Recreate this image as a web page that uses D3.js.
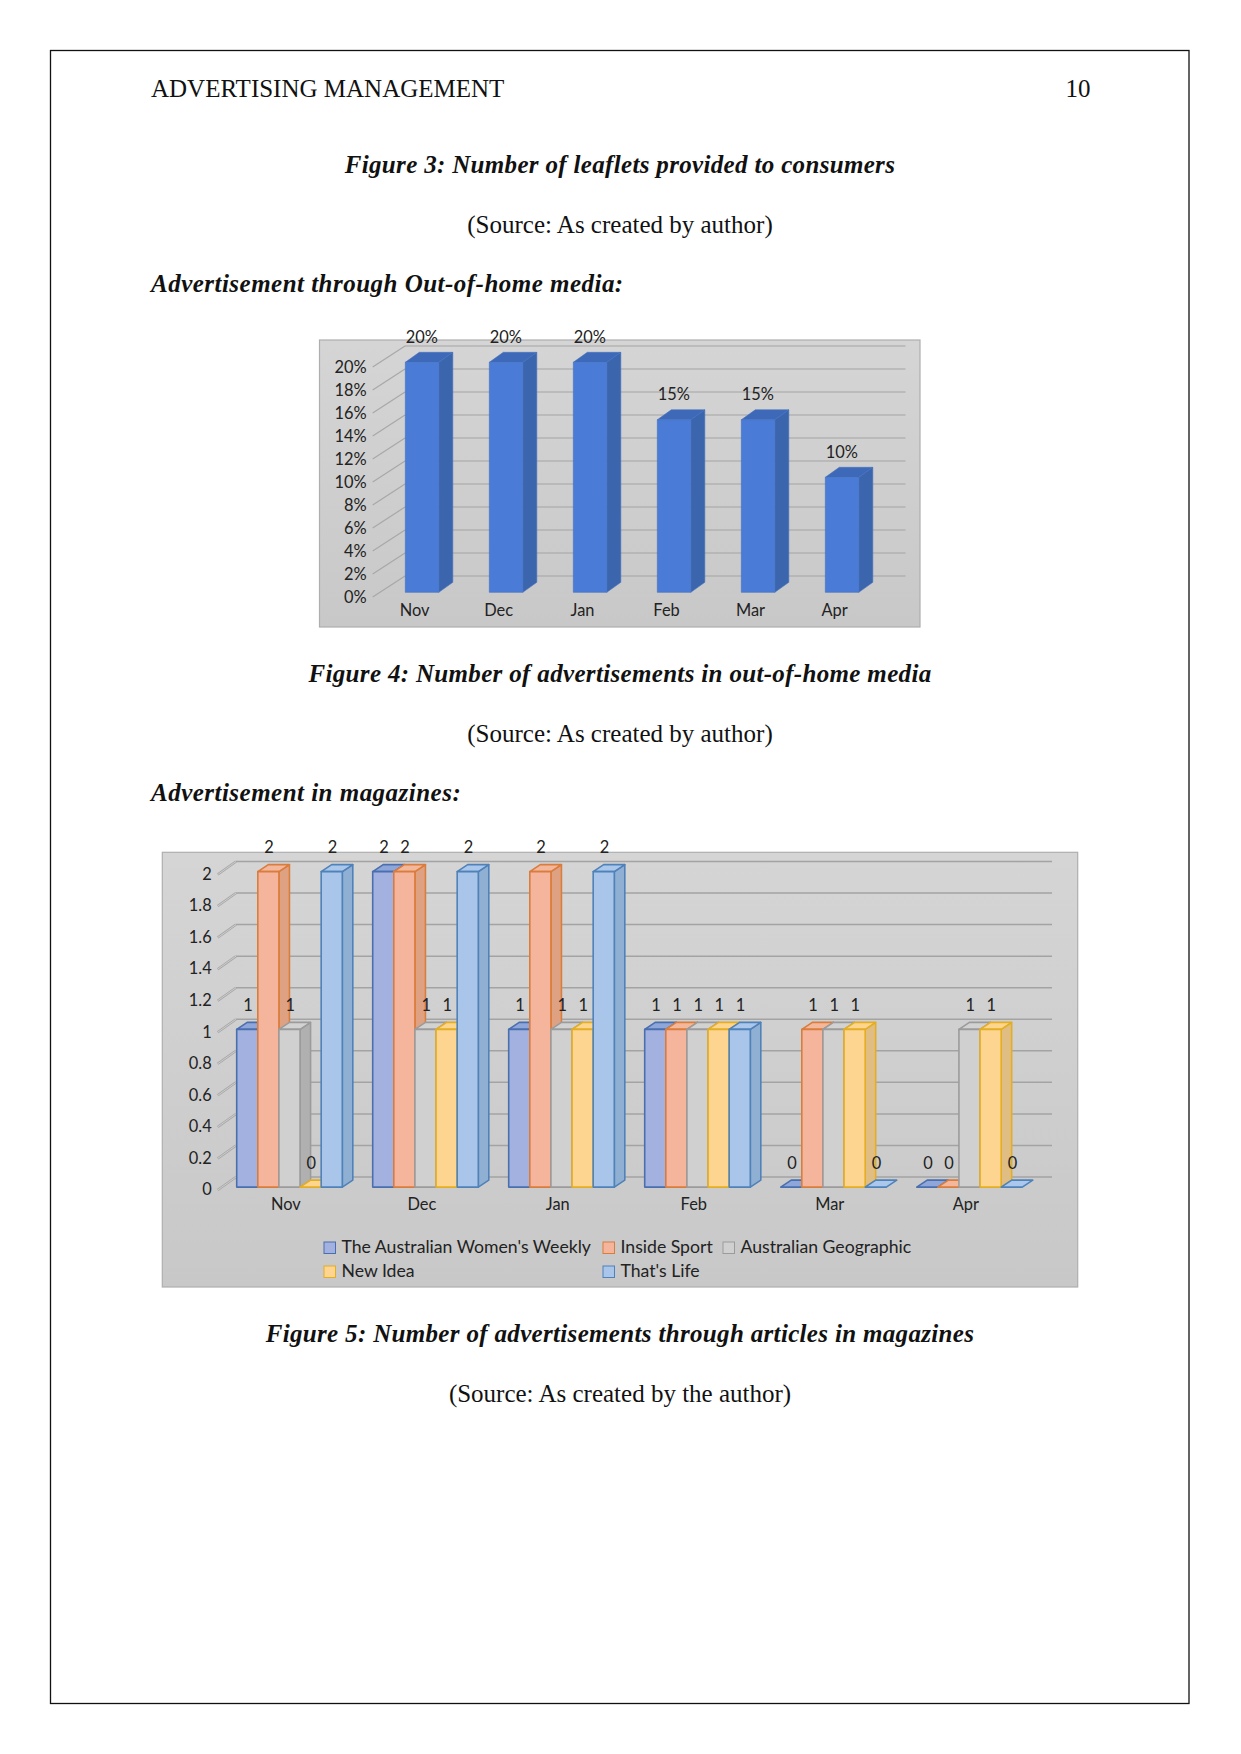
<!DOCTYPE html>
<html><head><meta charset="utf-8">
<script src="https://cdn.jsdelivr.net/npm/d3@7/dist/d3.min.js"></script>
<style>
html,body{margin:0;padding:0;background:#fff}
svg{display:block}
.serif{font-family:"Liberation Serif",serif;font-size:25px;fill:#111}
.bi{font-weight:bold;font-style:italic;letter-spacing:.33px}
.head{letter-spacing:.48px}
.chart text{font-family:Lato,sans-serif;font-size:16.4px;fill:#222}
.chart text.legend{font-size:17.65px}
</style></head><body>
<svg id="page" width="1241" height="1754"></svg>
<script>
// ---- data ----
const months = ["Nov","Dec","Jan","Feb","Mar","Apr"];
const outOfHome = [0.20,0.20,0.20,0.15,0.15,0.10];
const outOfHomeTicks = [0,0.02,0.04,0.06,0.08,0.10,0.12,0.14,0.16,0.18,0.20];
const magazineNames = ["The Australian Women's Weekly","Inside Sport","Australian Geographic","New Idea","That's Life"];
const womensWeekly = [1,2,1,1,0,0];
const insideSport = [2,2,2,1,1,0];
const geographic = [1,1,1,1,1,1];
const newIdea = [0,1,1,1,1,1];
const thatsLife = [2,2,2,1,0,0];
const magazineTicks = [0,0.2,0.4,0.6,0.8,1,1.2,1.4,1.6,1.8,2];
const seriesColors = [
  {front:"#a2b1df",edge:"#4a6fae",side:"#8ca3cf",top:"#8fa6da"},
  {front:"#f4b59c",edge:"#d97c3c",side:"#dea283",top:"#f3b79c"},
  {front:"#d0d0d0",edge:"#9b9b9b",side:"#b0b0b0",top:"#d2d2d2"},
  {front:"#fdd490",edge:"#e4ae24",side:"#e0bd82",top:"#fdd58c"},
  {front:"#a9c5e9",edge:"#4f82b9",side:"#8fafd3",top:"#abc7eb"}
];
const pageTexts = [
  {t:"ADVERTISING MANAGEMENT",x:151,y:97,a:"start",c:""},
  {t:"10",x:1090.5,y:97,a:"end",c:""},
  {t:"Figure 3: Number of leaflets provided to consumers",x:620,y:173,a:"middle",c:"bi"},
  {t:"(Source: As created by author)",x:620,y:233,a:"middle",c:""},
  {t:"Advertisement through Out-of-home media:",x:151,y:292,a:"start",c:"bi head"},
  {t:"Figure 4: Number of advertisements in out-of-home media",x:620,y:682,a:"middle",c:"bi"},
  {t:"(Source: As created by author)",x:620,y:742,a:"middle",c:""},
  {t:"Advertisement in magazines:",x:151,y:801,a:"start",c:"bi head"},
  {t:"Figure 5: Number of advertisements through articles in magazines",x:620,y:1342,a:"middle",c:"bi"},
  {t:"(Source: As created by the author)",x:620,y:1402,a:"middle",c:""}
];
// ---- page ----
const svg = d3.select("#page");
const defs = svg.append("defs");
const grad = defs.append("linearGradient").attr("id","panel").attr("x1",0).attr("y1",0).attr("x2",0).attr("y2",1);
grad.append("stop").attr("offset","0%").attr("stop-color","#d5d5d5");
grad.append("stop").attr("offset","100%").attr("stop-color","#c8c8c8");

svg.append("rect").attr("x",50.5).attr("y",50.5).attr("width",1138.5).attr("height",1653)
  .attr("fill","none").attr("stroke","#111").attr("stroke-width",1.3);
svg.selectAll("text.serif").data(pageTexts).join("text")
  .attr("class",d=>"serif "+d.c).attr("x",d=>d.x).attr("y",d=>d.y)
  .attr("text-anchor",d=>d.a).text(d=>d.t);

const poly = d3.line();
function panel(g,x0,y0,x1,y1){
  g.append("rect").attr("x",x0).attr("y",y0).attr("width",x1-x0).attr("height",y1-y0)
   .attr("fill","url(#panel)").attr("stroke","#aeaeae").attr("stroke-width",1.2);
}
function walls(g,ticks,yFront,wall,fmt){
  ticks.forEach(t=>{
    const yf=yFront(t), yb=yf-wall.lift;
    g.append("path").attr("d",poly([[wall.xBack,yb],[wall.xEnd,yb]])).attr("stroke","#a3a3a3").attr("stroke-width",wall.sw).attr("fill","none");
    g.append("path").attr("d",poly([[wall.xFront,yf],[wall.xBack,yb]])).attr("stroke","#a8a8a8").attr("stroke-width",wall.diag).attr("fill","none");
    if(wall.diag>2) g.append("path").attr("d",poly([[wall.xFront,yf],[wall.xBack,yb]])).attr("stroke","#d4d4d4").attr("stroke-width",0.8).attr("fill","none");
  });
  const ax=d3.axisLeft(yFront).tickValues(ticks).tickSize(0).tickPadding(0).tickFormat(fmt);
  const a=g.append("g").attr("transform",`translate(${wall.xFront-6},${wall.labelShift})`).call(ax);
  a.select(".domain").remove();
  a.selectAll("text").attr("fill","#222");
}
function bar3d(g,x,w,yTop,yBase,dx,dy,c,strokeW){
  const top=[[x,yTop],[x+w,yTop],[x+w+dx,yTop-dy],[x+dx,yTop-dy]];
  const side=[[x+w,yTop],[x+w+dx,yTop-dy],[x+w+dx,yBase-dy],[x+w,yBase]];
  const style=(p,f)=>p.attr("fill",f).attr("stroke",c.edge).attr("stroke-width",strokeW).attr("stroke-linejoin","round");
  if(yBase-yTop>1) style(g.append("path").attr("d",poly(side)+"Z"),c.side);
  style(g.append("path").attr("d",poly(top)+"Z"),c.top);
  if(yBase-yTop>1) style(g.append("rect").attr("x",x).attr("y",yTop).attr("width",w).attr("height",yBase-yTop),c.front);
}
function catAxis(g,band,shift,y){
  const a=g.append("g").attr("transform",`translate(${shift},${y})`)
    .call(d3.axisBottom(band).tickSize(0).tickPadding(0));
  a.select(".domain").remove();
  a.selectAll("text").attr("fill","#222").attr("dy","0");
}

// ---- Figure 4 chart ----
(function(){
  const g=svg.append("g").attr("class","chart");
  panel(g,319.5,340,920,627);
  const yFront=d3.scaleLinear().domain([0,0.20]).range([597,367]);
  walls(g,outOfHomeTicks,yFront,{xFront:372.7,xBack:405,xEnd:905.5,lift:21,sw:1.1,diag:1.2,labelShift:0.5},d3.format(".0%"));
  const x=d3.scaleBand().domain(months).range([405.3,405.3+84*6-50.5]).paddingInner(50.5/84).paddingOuter(0).align(0);
  const barOffset=-4.7;
  const c={front:"#497bd7",edge:"#4470c0",side:"#3b65ad",top:"#3d69b8"};
  months.forEach((m,i)=>{
    bar3d(g,x(m),x.bandwidth(),yFront(outOfHome[i])+barOffset,yFront(0)+barOffset,14,10,c,0.6);
  });
  months.forEach((m,i)=>{
    g.append("text").attr("x",x(m)+x.bandwidth()/2-0.3).attr("y",yFront(outOfHome[i])+barOffset-25.5)
      .attr("dy","0.35em").attr("text-anchor","middle").text(d3.format(".0%")(outOfHome[i]));
  });
  catAxis(g,x,-7.5,615.5);
})();

// ---- Figure 5 chart ----
(function(){
  const g=svg.append("g").attr("class","chart");
  panel(g,162.3,852.3,1077.7,1287);
  const yFront=d3.scaleLinear().domain([0,2]).range([1190,874.5]);
  walls(g,magazineTicks,yFront,{xFront:217.7,xBack:236,xEnd:1052,lift:13,sw:1.5,diag:2.4,labelShift:-0.5},d=>d3.format("~g")(d));
  const x=d3.scaleBand().domain(months).range([236.7,236.7+136*6-30.4]).paddingInner(30.4/136).paddingOuter(0).align(0);
  const series=[womensWeekly,insideSport,geographic,newIdea,thatsLife];
  const xs=d3.scaleBand().domain(d3.range(5)).range([0,x.bandwidth()]);
  const barOffset=-2.9;
  months.forEach((m,i)=>{
    series.forEach((s,k)=>{
      bar3d(g,x(m)+xs(k),xs.bandwidth(),yFront(s[i])+barOffset,yFront(0)+barOffset,10.5,7,seriesColors[k],1.6);
    });
  });
  months.forEach((m,i)=>{
    series.forEach((s,k)=>{
      g.append("text").attr("x",x(m)+xs(k)+xs.bandwidth()/2+0.7).attr("y",yFront(s[i])+barOffset-24)
        .attr("dy","0.35em").attr("text-anchor","middle").text(s[i]);
    });
  });
  catAxis(g,x,-3.7,1210);
  const legendPos=[[324,1247],[603,1247],[723,1247],[324,1271],[603,1271]];
  magazineNames.forEach((n,k)=>{
    const p=legendPos[k];
    g.append("rect").attr("x",p[0]).attr("y",p[1]-5).attr("width",11.5).attr("height",11.5)
      .attr("fill",seriesColors[k].front).attr("stroke",seriesColors[k].edge).attr("stroke-width",1);
    g.append("text").attr("class","legend").attr("x",p[0]+17.5).attr("y",p[1]).attr("dy","0.35em").text(n);
  });
})();
</script>
</body></html>
